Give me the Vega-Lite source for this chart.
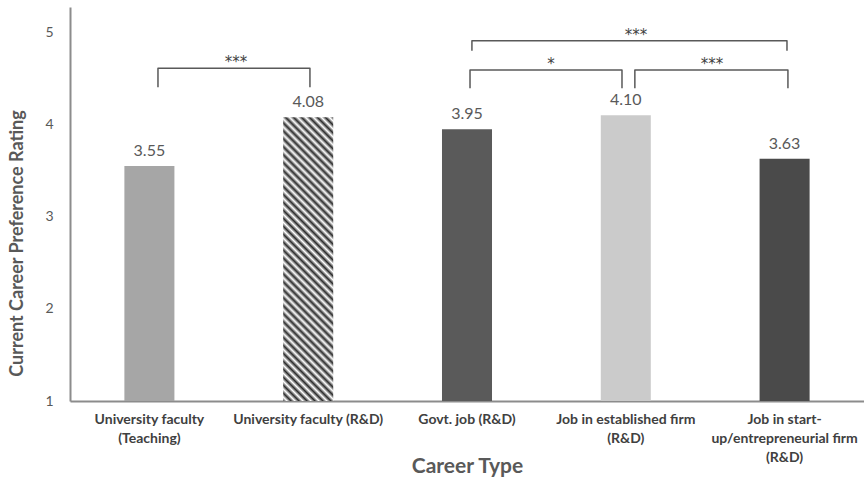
{
  "$schema": "https://vega.github.io/schema/vega-lite/v6.json",
  "width": 794,
  "height": 394,
  "autosize": "none",
  "padding": {"left": 70, "top": 7, "right": 0, "bottom": 81},
  "background": "#ffffff",
  "config": {"view": {"stroke": null}, "font": "Lato"},
  "datasets": {
    "bars": [
      {"career": "University faculty\n(Teaching)", "rating": 3.55},
      {"career": "University faculty (R&D)", "rating": 4.08},
      {"career": "Govt. job (R&D)", "rating": 3.95},
      {"career": "Job in established firm\n(R&D)", "rating": 4.10},
      {"career": "Job in start-\nup/entrepreneurial firm\n(R&D)", "rating": 3.63}
    ],
    "brackets": [
      {"bracket": "b1", "seq": 1, "pos": 0.554, "rating": 4.405},
      {"bracket": "b1", "seq": 2, "pos": 0.554, "rating": 4.611},
      {"bracket": "b1", "seq": 3, "pos": 1.511, "rating": 4.611},
      {"bracket": "b1", "seq": 4, "pos": 1.511, "rating": 4.405},
      {"bracket": "b2", "seq": 1, "pos": 2.531, "rating": 4.802},
      {"bracket": "b2", "seq": 2, "pos": 2.531, "rating": 4.910},
      {"bracket": "b2", "seq": 3, "pos": 4.515, "rating": 4.910},
      {"bracket": "b2", "seq": 4, "pos": 4.515, "rating": 4.802},
      {"bracket": "b3", "seq": 1, "pos": 2.519, "rating": 4.394},
      {"bracket": "b3", "seq": 2, "pos": 2.519, "rating": 4.592},
      {"bracket": "b3", "seq": 3, "pos": 3.476, "rating": 4.592},
      {"bracket": "b3", "seq": 4, "pos": 3.476, "rating": 4.394},
      {"bracket": "b4", "seq": 1, "pos": 3.557, "rating": 4.394},
      {"bracket": "b4", "seq": 2, "pos": 3.557, "rating": 4.592},
      {"bracket": "b4", "seq": 3, "pos": 4.521, "rating": 4.592},
      {"bracket": "b4", "seq": 4, "pos": 4.521, "rating": 4.394}
    ],
    "stars": [
      {"sig": "***", "pos": 1.045, "rating": 4.611},
      {"sig": "***", "pos": 3.564, "rating": 4.910},
      {"sig": "*", "pos": 3.029, "rating": 4.592},
      {"sig": "***", "pos": 4.043, "rating": 4.592}
    ]
  },
  "layer": [
    {
      "data": {"name": "bars"},
      "encoding": {
        "x": {
          "field": "career",
          "type": "nominal",
          "sort": null,
          "scale": {
            "domain": [
              "University faculty\n(Teaching)",
              "University faculty (R&D)",
              "Govt. job (R&D)",
              "Job in established firm\n(R&D)",
              "Job in start-\nup/entrepreneurial firm\n(R&D)"
            ],
            "paddingInner": 0.685,
            "paddingOuter": 0.3425
          },
          "axis": {
            "title": "Career Type",
            "labelExpr": "split(datum.value, '\\n')",
            "labelAngle": 0,
            "labelFont": "Lato",
            "labelFontWeight": "bold",
            "labelFontSize": 14,
            "labelColor": "#404040",
            "labelLineHeight": 19,
            "labelPadding": 11,
            "labelOverlap": false,
            "labelLimit": 0,
            "ticks": false,
            "domainColor": "#8c8c8c",
            "domainWidth": 2,
            "titleFont": "Lato",
            "titleFontSize": 21,
            "titleFontWeight": "bold",
            "titleColor": "#595959",
            "titleBaseline": "middle",
            "titleY": 65
          }
        },
        "y": {
          "field": "rating",
          "type": "quantitative",
          "scale": {"domain": [1, 5.276], "nice": false, "zero": false},
          "axis": {
            "title": "Current Career Preference Rating",
            "values": [1, 2, 3, 4, 5],
            "format": "d",
            "grid": false,
            "ticks": false,
            "domainColor": "#8c8c8c",
            "domainWidth": 2,
            "labelFont": "Lato",
            "labelFontSize": 14,
            "labelColor": "#595959",
            "labelPadding": 17,
            "titleFont": "Lato",
            "titleFontSize": 18,
            "titleFontWeight": "bold",
            "titleColor": "#595959",
            "titleBaseline": "middle",
            "titleAlign": "center",
            "titleX": -53,
            "titleY": 236
          }
        }
      },
      "layer": [
        {
          "mark": {"type": "bar"},
          "encoding": {
            "y2": {"datum": 1},
            "fill": {
              "field": "career",
              "type": "nominal",
              "legend": null,
              "scale": {
                "domain": [
                  "University faculty\n(Teaching)",
                  "University faculty (R&D)",
                  "Govt. job (R&D)",
                  "Job in established firm\n(R&D)",
                  "Job in start-\nup/entrepreneurial firm\n(R&D)"
                ],
                "range": ["#a6a6a6", "#ffffff", "#5a5a5a", "#cbcbcb", "#4a4a4a"]
              }
            }
          }
        },
        {
          "transform": [{"filter": "datum.career == 'University faculty (R&D)'"}],
          "mark": {
            "type": "bar",
            "fill": {
              "gradient": "linear",
              "x1": 0, "y1": 1, "x2": 0.201, "y2": -0.1408,
              "stops": [
                {"offset": 0, "color": "#2b2b2b"}, {"offset": 0.0119, "color": "#ffffff"},
                {"offset": 0.0238, "color": "#2b2b2b"}, {"offset": 0.0357, "color": "#ffffff"},
                {"offset": 0.0476, "color": "#2b2b2b"}, {"offset": 0.0595, "color": "#ffffff"},
                {"offset": 0.0714, "color": "#2b2b2b"}, {"offset": 0.0833, "color": "#ffffff"},
                {"offset": 0.0952, "color": "#2b2b2b"}, {"offset": 0.1071, "color": "#ffffff"},
                {"offset": 0.1190, "color": "#2b2b2b"}, {"offset": 0.1310, "color": "#ffffff"},
                {"offset": 0.1429, "color": "#2b2b2b"}, {"offset": 0.1548, "color": "#ffffff"},
                {"offset": 0.1667, "color": "#2b2b2b"}, {"offset": 0.1786, "color": "#ffffff"},
                {"offset": 0.1905, "color": "#2b2b2b"}, {"offset": 0.2024, "color": "#ffffff"},
                {"offset": 0.2143, "color": "#2b2b2b"}, {"offset": 0.2262, "color": "#ffffff"},
                {"offset": 0.2381, "color": "#2b2b2b"}, {"offset": 0.2500, "color": "#ffffff"},
                {"offset": 0.2619, "color": "#2b2b2b"}, {"offset": 0.2738, "color": "#ffffff"},
                {"offset": 0.2857, "color": "#2b2b2b"}, {"offset": 0.2976, "color": "#ffffff"},
                {"offset": 0.3095, "color": "#2b2b2b"}, {"offset": 0.3214, "color": "#ffffff"},
                {"offset": 0.3333, "color": "#2b2b2b"}, {"offset": 0.3452, "color": "#ffffff"},
                {"offset": 0.3571, "color": "#2b2b2b"}, {"offset": 0.3690, "color": "#ffffff"},
                {"offset": 0.3810, "color": "#2b2b2b"}, {"offset": 0.3929, "color": "#ffffff"},
                {"offset": 0.4048, "color": "#2b2b2b"}, {"offset": 0.4167, "color": "#ffffff"},
                {"offset": 0.4286, "color": "#2b2b2b"}, {"offset": 0.4405, "color": "#ffffff"},
                {"offset": 0.4524, "color": "#2b2b2b"}, {"offset": 0.4643, "color": "#ffffff"},
                {"offset": 0.4762, "color": "#2b2b2b"}, {"offset": 0.4881, "color": "#ffffff"},
                {"offset": 0.5000, "color": "#2b2b2b"}, {"offset": 0.5119, "color": "#ffffff"},
                {"offset": 0.5238, "color": "#2b2b2b"}, {"offset": 0.5357, "color": "#ffffff"},
                {"offset": 0.5476, "color": "#2b2b2b"}, {"offset": 0.5595, "color": "#ffffff"},
                {"offset": 0.5714, "color": "#2b2b2b"}, {"offset": 0.5833, "color": "#ffffff"},
                {"offset": 0.5952, "color": "#2b2b2b"}, {"offset": 0.6071, "color": "#ffffff"},
                {"offset": 0.6190, "color": "#2b2b2b"}, {"offset": 0.6310, "color": "#ffffff"},
                {"offset": 0.6429, "color": "#2b2b2b"}, {"offset": 0.6548, "color": "#ffffff"},
                {"offset": 0.6667, "color": "#2b2b2b"}, {"offset": 0.6786, "color": "#ffffff"},
                {"offset": 0.6905, "color": "#2b2b2b"}, {"offset": 0.7024, "color": "#ffffff"},
                {"offset": 0.7143, "color": "#2b2b2b"}, {"offset": 0.7262, "color": "#ffffff"},
                {"offset": 0.7381, "color": "#2b2b2b"}, {"offset": 0.7500, "color": "#ffffff"},
                {"offset": 0.7619, "color": "#2b2b2b"}, {"offset": 0.7738, "color": "#ffffff"},
                {"offset": 0.7857, "color": "#2b2b2b"}, {"offset": 0.7976, "color": "#ffffff"},
                {"offset": 0.8095, "color": "#2b2b2b"}, {"offset": 0.8214, "color": "#ffffff"},
                {"offset": 0.8333, "color": "#2b2b2b"}, {"offset": 0.8452, "color": "#ffffff"},
                {"offset": 0.8571, "color": "#2b2b2b"}, {"offset": 0.8690, "color": "#ffffff"},
                {"offset": 0.8810, "color": "#2b2b2b"}, {"offset": 0.8929, "color": "#ffffff"},
                {"offset": 0.9048, "color": "#2b2b2b"}, {"offset": 0.9167, "color": "#ffffff"},
                {"offset": 0.9286, "color": "#2b2b2b"}, {"offset": 0.9405, "color": "#ffffff"},
                {"offset": 0.9524, "color": "#2b2b2b"}, {"offset": 0.9643, "color": "#ffffff"},
                {"offset": 0.9762, "color": "#2b2b2b"}, {"offset": 0.9881, "color": "#ffffff"},
                {"offset": 1, "color": "#2b2b2b"}
              ]
            }
          },
          "encoding": {"y2": {"datum": 1}}
        },
        {
          "mark": {"type": "text", "baseline": "alphabetic", "dy": -10, "fontSize": 16, "color": "#595959", "font": "Lato"},
          "encoding": {"text": {"field": "rating", "type": "quantitative", "format": ".2f"}}
        }
      ]
    },
    {
      "layer": [
        {
          "data": {"name": "brackets"},
          "mark": {"type": "line", "stroke": "#595959", "strokeWidth": 1.5, "strokeJoin": "round"},
          "encoding": {
            "x": {"field": "pos", "type": "quantitative", "scale": {"domain": [0, 5], "nice": false, "zero": false}, "axis": null},
            "y": {"field": "rating", "type": "quantitative"},
            "detail": {"field": "bracket", "type": "nominal"},
            "order": {"field": "seq", "type": "quantitative"}
          }
        },
        {
          "data": {"name": "stars"},
          "mark": {"type": "text", "baseline": "alphabetic", "dy": -1, "fontSize": 15, "color": "#404040", "font": "DejaVu Sans"},
          "encoding": {
            "x": {"field": "pos", "type": "quantitative", "scale": {"domain": [0, 5], "nice": false, "zero": false}, "axis": null},
            "y": {"field": "rating", "type": "quantitative"},
            "text": {"field": "sig", "type": "nominal"}
          }
        }
      ]
    }
  ],
  "resolve": {"scale": {"x": "independent"}}
}
